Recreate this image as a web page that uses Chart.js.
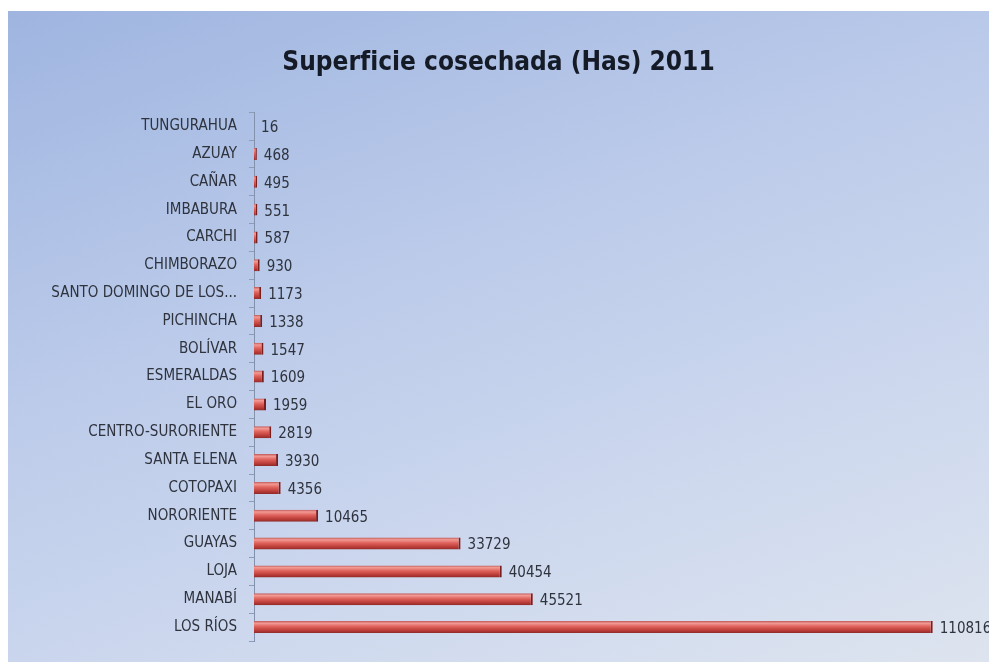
<!DOCTYPE html>
<html lang="es">

<head>
    <meta charset="UTF-8">
    <title>Superficie cosechada (Has) 2011</title>
    <script src="https://cdn.jsdelivr.net/npm/chart.js"></script>
    <style>
        html, body { margin: 0; padding: 0; background: #ffffff; }
        #wrap {
            position: absolute;
            left: 8px;
            top: 11px;
            width: 981px;
            height: 651px;
            background: linear-gradient(160deg, #9fb5e0 0%, #bccbea 40%, #cdd8ee 70%, #dde4ef 100%);
        }
    </style>
</head>

<body>
    <div id="wrap">
        <canvas id="harvestChart" width="981" height="651"></canvas>
    </div>

    <script>
        // provincias, de arriba hacia abajo como en el gráfico
        const provinces = [
            "TUNGURAHUA", "AZUAY", "CAÑAR", "IMBABURA", "CARCHI", "CHIMBORAZO",
            "SANTO DOMINGO DE LOS...", "PICHINCHA", "BOLÍVAR", "ESMERALDAS", "EL ORO",
            "CENTRO-SURORIENTE", "SANTA ELENA", "COTOPAXI", "NORORIENTE", "GUAYAS",
            "LOJA", "MANABÍ", "LOS RÍOS"
        ];
        const hectares = [
            16, 468, 495, 551, 587, 930,
            1173, 1338, 1547, 1609, 1959,
            2819, 3930, 4356, 10465, 33729,
            40454, 45521, 110816
        ];
        const chartTitle = "Superficie cosechada (Has) 2011";
        const axisMax = 120000; // hidden value axis

        const labelFont = "'Liberation Sans Narrow', 'DejaVu Sans Condensed', 'Roboto', sans-serif";
        const barShare = 0.43;

        // red "cylinder" shading for each bar
        function barFill(context) {
            const chart = context.chart;
            const area = chart.chartArea;
            if (!area || !chart.scales.y) return "#d9534f";
            const y = chart.scales.y.getPixelForValue(context.dataIndex);
            const half = (area.bottom - area.top) / provinces.length * barShare / 2;
            const g = chart.ctx.createLinearGradient(0, y - half, 0, y + half);
            g.addColorStop(0, "#c05a5a");
            g.addColorStop(0.18, "#f29a94");
            g.addColorStop(0.45, "#e0625c");
            g.addColorStop(0.8, "#b83a36");
            g.addColorStop(1, "#8c2a28");
            return g;
        }

        // value text at the end of each bar
        const valueLabels = {
            id: "valueLabels",
            afterDatasetsDraw(chart) {
                const ctx = chart.ctx;
                const meta = chart.getDatasetMeta(0);
                ctx.save();
                ctx.font = "15px " + labelFont;
                ctx.fillStyle = "#2e333d";
                ctx.textAlign = "left";
                ctx.textBaseline = "middle";
                meta.data.forEach(function (bar, i) {
                    ctx.fillText(String(hectares[i]), bar.x + 7, bar.y + 2);
                });
                ctx.restore();
            }
        };

        let ctx = document.getElementById("harvestChart").getContext("2d");
        let harvestChart = new Chart(ctx, {
            type: "bar",
            data: {
                labels: provinces,
                datasets: [{
                    data: hectares,
                    backgroundColor: barFill,
                    borderColor: "#7a1f1f",
                    borderWidth: { top: 0, right: 2, bottom: 0, left: 0 },
                    borderSkipped: "start",
                    categoryPercentage: 1,
                    barPercentage: barShare,
                }]
            },
            options: {
                indexAxis: "y",
                responsive: false,
                animation: false,
                layout: {
                    padding: 0
                },
                plugins: {
                    legend: { display: false },
                    tooltip: { enabled: false },
                    title: {
                        display: true,
                        text: chartTitle,
                        color: "#141a26",
                        font: { family: labelFont, size: 26, weight: "bold" },
                        padding: { top: 37, bottom: 33 }
                    }
                },
                scales: {
                    x: {
                        display: false,
                        min: 0,
                        max: axisMax,
                    },
                    y: {
                        offset: true,
                        afterFit: function (scale) {
                            scale.width = 246;
                        },
                        border: { display: true, color: "#8292ad", width: 1 },
                        grid: {
                            display: true,
                            drawOnChartArea: false,
                            offset: true,
                            tickLength: 5,
                            color: "#8d9bb5"
                        },
                        ticks: {
                            color: "#2e333d",
                            padding: 12,
                            autoSkip: false,
                            font: { family: labelFont, size: 15 }
                        }
                    }
                }
            },
            plugins: [valueLabels]
        });
    </script>
</body>

</html>
